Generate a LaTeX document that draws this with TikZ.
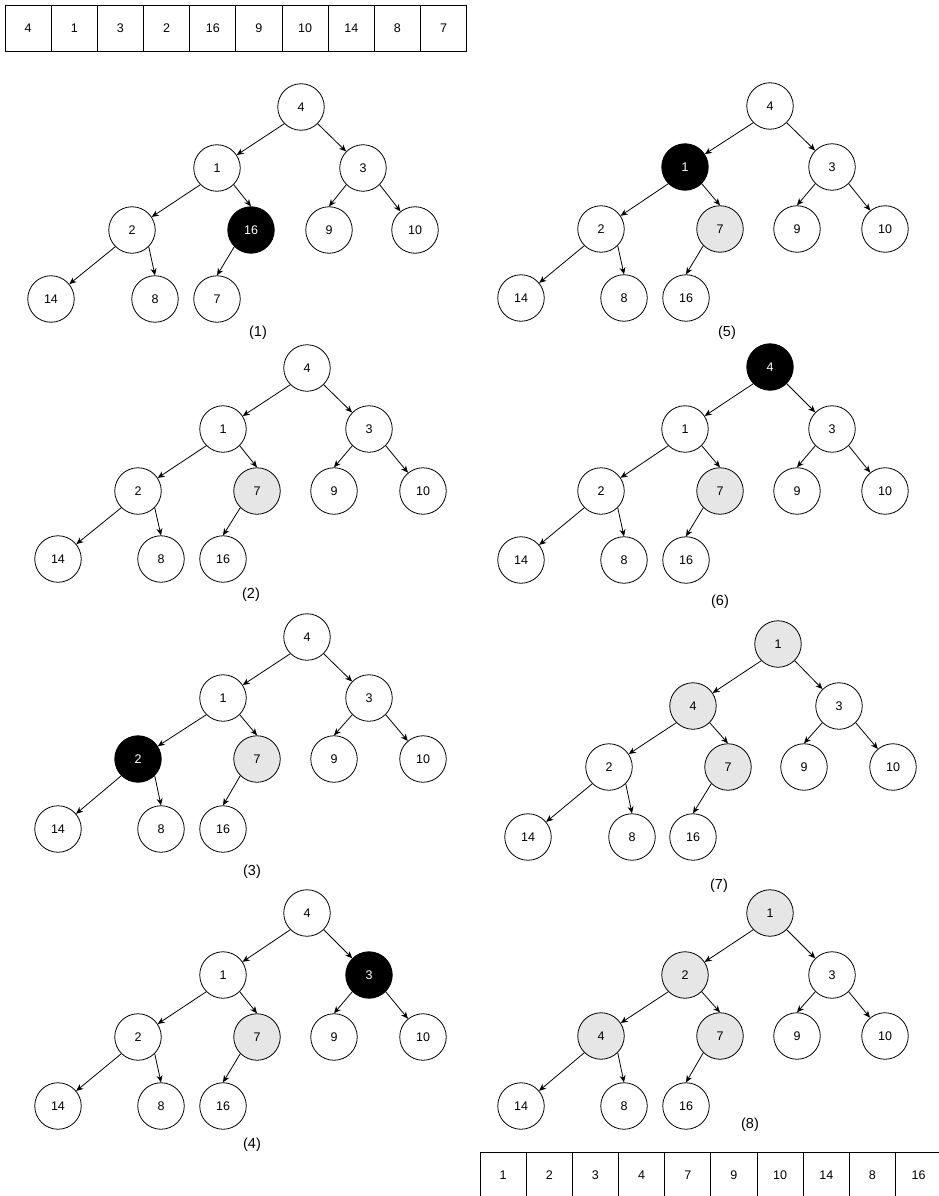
\documentclass[tikz,border=0pt]{standalone}
\usepackage{fontspec}
\setmainfont{Liberation Sans}
\usetikzlibrary{arrows.meta}
\definecolor{lightfill}{HTML}{E6E6E6}
\tikzset{
  vtx/.style={circle, draw=black, line width=0.8pt, fill=white, minimum size=46.5pt, inner sep=0pt, font=\fontsize{12.5}{14}\selectfont},
  graynode/.style={vtx, fill=lightfill},
  blacknode/.style={vtx, fill=black, text=white},
  edge/.style={draw=black, line width=0.8pt, -{Stealth[length=7pt,width=6pt,inset=2.2pt]}},
  cell/.style={rectangle, draw=black, line width=0.8pt, minimum width=46.17pt, minimum height=46.7pt, inner sep=0pt, outer sep=0pt, font=\fontsize{12.5}{14}\selectfont},
  caption/.style={font=\fontsize{14.5}{16}\selectfont, inner sep=0pt}
}
% edges of one heap tree, prefix #1
\newcommand{\heapedges}[1]{%
  \draw[edge] (#1r.-135) -- (#1a);
  \draw[edge] (#1r.-45) -- (#1b);
  \draw[edge] (#1a.-135) -- (#1c);
  \draw[edge] (#1a.-45) -- (#1d.north);
  \draw[edge] (#1b.-135) -- (#1e.north);
  \draw[edge] (#1b.-45) -- (#1f);
  \draw[edge] (#1c.-135) -- (#1g);
  \draw[edge] (#1c.-45) -- (#1h.north);
  \draw[edge] (#1d.-135) -- (#1i.north);
}
\begin{document}
\begin{tikzpicture}[x=1pt,y=-1pt]
\useasboundingbox (0,0) rectangle (939,1196);
\clip (0,0) rectangle (939,1196);
\fill[white] (0,0) rectangle (939,1196);

% top array
\foreach \v [count=\i] in {4,1,3,2,16,9,10,14,8,7}
  \node[cell] (top\i) at ({5+46.17*(\i-0.5)},28.35) {\v};

% bottom array
\foreach \v [count=\i] in {1,2,3,4,7,9,10,14,8,16}
  \node[cell] (bot\i) at ({480+46.17*(\i-0.5)},1175.35) {\v};

% ---------- tree (1)
\begin{scope}[shift={(301,107)}]
\node[vtx] (ar) at (0,0) {4};
\node[vtx] (aa) at (-84,61) {1};
\node[vtx] (ab) at (62,61) {3};
\node[vtx] (ac) at (-169,123) {2};
\node[blacknode] (ad) at (-50,123) {16};
\node[vtx] (ae) at (28,123) {9};
\node[vtx] (af) at (114,123) {10};
\node[vtx] (ag) at (-250,192) {14};
\node[vtx] (ah) at (-146,192) {8};
\node[vtx] (ai) at (-84,192) {7};
\node[caption] (acap) at (-43,226) {(1)};
\end{scope}
\heapedges{a}

% ---------- tree (2)
\begin{scope}[shift={(307,368)}]
\node[vtx] (br) at (0,0) {4};
\node[vtx] (ba) at (-84,61) {1};
\node[vtx] (bb) at (62,61) {3};
\node[vtx] (bc) at (-169,123) {2};
\node[graynode] (bd) at (-50,123) {7};
\node[vtx] (be) at (27,123) {9};
\node[vtx] (bf) at (116,123) {10};
\node[vtx] (bg) at (-249,191) {14};
\node[vtx] (bh) at (-146,191) {8};
\node[vtx] (bi) at (-84,191) {16};
\node[caption] (bcap) at (-56,227) {(2)};
\end{scope}
\heapedges{b}

% ---------- tree (3)
\begin{scope}[shift={(307,637)}]
\node[vtx] (cr) at (0,0) {4};
\node[vtx] (ca) at (-84,61) {1};
\node[vtx] (cb) at (62,61) {3};
\node[blacknode] (cc) at (-169,122) {2};
\node[graynode] (cd) at (-50,122) {7};
\node[vtx] (ce) at (27,122) {9};
\node[vtx] (cf) at (116,122) {10};
\node[vtx] (cg) at (-249,192) {14};
\node[vtx] (ch) at (-146,192) {8};
\node[vtx] (ci) at (-84,192) {16};
\node[caption] (ccap) at (-55,235) {(3)};
\end{scope}
\heapedges{c}

% ---------- tree (4)
\begin{scope}[shift={(307,913)}]
\node[vtx] (dr) at (0,0) {4};
\node[vtx] (da) at (-84,62) {1};
\node[blacknode] (db) at (62,62) {3};
\node[vtx] (dc) at (-169,124) {2};
\node[graynode] (dd) at (-50,124) {7};
\node[vtx] (de) at (27,124) {9};
\node[vtx] (df) at (116,124) {10};
\node[vtx] (dg) at (-249,193) {14};
\node[vtx] (dh) at (-146,193) {8};
\node[vtx] (di) at (-84,193) {16};
\node[caption] (dcap) at (-55,232) {(4)};
\end{scope}
\heapedges{d}

% ---------- tree (5)
\begin{scope}[shift={(770,106)}]
\node[vtx] (er) at (0,0) {4};
\node[blacknode] (ea) at (-85,61) {1};
\node[vtx] (eb) at (62,61) {3};
\node[vtx] (ec) at (-169,123) {2};
\node[graynode] (ed) at (-50,123) {7};
\node[vtx] (ee) at (27,123) {9};
\node[vtx] (ef) at (115,123) {10};
\node[vtx] (eg) at (-249,192) {14};
\node[vtx] (eh) at (-146,192) {8};
\node[vtx] (ei) at (-84,192) {16};
\node[caption] (ecap) at (-43,227) {(5)};
\end{scope}
\heapedges{e}

% ---------- tree (6)
\begin{scope}[shift={(770,367)}]
\node[blacknode] (fr) at (0,0) {4};
\node[vtx] (fa) at (-85,62) {1};
\node[vtx] (fb) at (62,62) {3};
\node[vtx] (fc) at (-169,124) {2};
\node[graynode] (fd) at (-50,124) {7};
\node[vtx] (fe) at (27,124) {9};
\node[vtx] (ff) at (115,124) {10};
\node[vtx] (fg) at (-249,193) {14};
\node[vtx] (fh) at (-146,193) {8};
\node[vtx] (fi) at (-84,193) {16};
\node[caption] (fcap) at (-50,235) {(6)};
\end{scope}
\heapedges{f}

% ---------- tree (7)
\begin{scope}[shift={(778,644)}]
\node[graynode] (gr) at (0,0) {1};
\node[graynode] (ga) at (-85,62) {4};
\node[vtx] (gb) at (61,62) {3};
\node[vtx] (gc) at (-169,123) {2};
\node[graynode] (gd) at (-50,123) {7};
\node[vtx] (ge) at (26,123) {9};
\node[vtx] (gf) at (115,123) {10};
\node[vtx] (gg) at (-250,193) {14};
\node[vtx] (gh) at (-146,193) {8};
\node[vtx] (gi) at (-85,193) {16};
\node[caption] (gcap) at (-59,242) {(7)};
\end{scope}
\heapedges{g}

% ---------- tree (8)
\begin{scope}[shift={(770,913)}]
\node[graynode] (hr) at (0,0) {1};
\node[graynode] (ha) at (-85,62) {2};
\node[vtx] (hb) at (62,62) {3};
\node[graynode] (hc) at (-169,123) {4};
\node[graynode] (hd) at (-50,123) {7};
\node[vtx] (he) at (27,123) {9};
\node[vtx] (hf) at (115,123) {10};
\node[vtx] (hg) at (-249,193) {14};
\node[vtx] (hh) at (-146,193) {8};
\node[vtx] (hi) at (-84,193) {16};
\node[caption] (hcap) at (-20,212) {(8)};
\end{scope}
\heapedges{h}
\end{tikzpicture}
\end{document}
